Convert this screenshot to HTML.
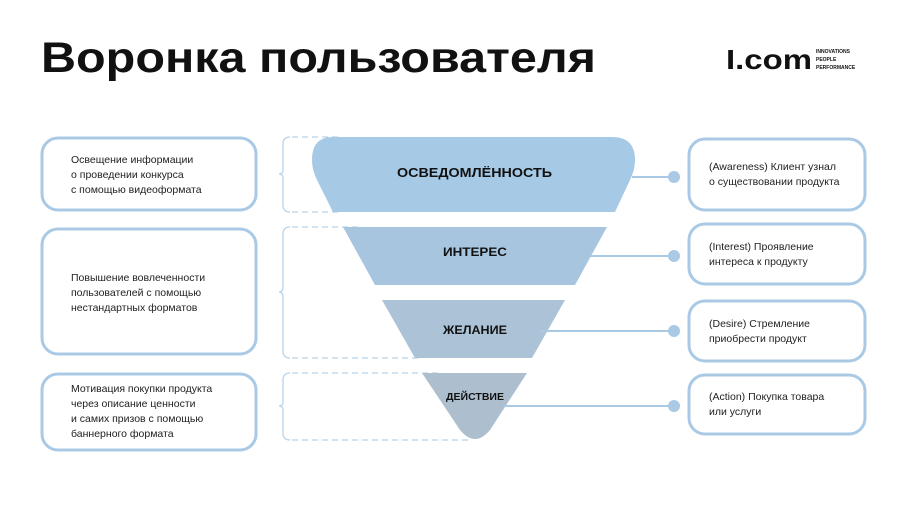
<!DOCTYPE html>
<html><head><meta charset="utf-8"><style>
html,body{margin:0;padding:0;background:#fff;}
svg{display:block;}
text{font-family:"Liberation Sans","DejaVu Sans",sans-serif;}
</style></head><body>
<svg width="900" height="506" viewBox="0 0 900 506" xmlns="http://www.w3.org/2000/svg">
<text x="41" y="72" font-size="43" font-weight="bold" fill="#111" textLength="555" lengthAdjust="spacingAndGlyphs">Воронка пользователя</text>
<text x="726" y="69" font-size="28" font-weight="bold" fill="#111" textLength="86" lengthAdjust="spacingAndGlyphs">I.com</text>
<text x="816" y="53" font-size="5" font-weight="bold" fill="#111">INNOVATIONS</text>
<text x="816" y="61" font-size="5" font-weight="bold" fill="#111">PEOPLE</text>
<text x="816" y="69" font-size="5" font-weight="bold" fill="#111">PERFORMANCE</text>

<g fill="none" stroke="#a9c9e5" stroke-width="3">
<rect x="42" y="138" width="214" height="72" rx="16"/>
<rect x="42" y="229" width="214" height="125" rx="16"/>
<rect x="42" y="374" width="214" height="76" rx="16"/>
<rect x="689" y="139" width="176" height="71" rx="16"/>
<rect x="689" y="224" width="176" height="60" rx="16"/>
<rect x="689" y="301" width="176" height="60" rx="16"/>
<rect x="689" y="375" width="176" height="59" rx="16"/>
</g>

<g fill="none" stroke="#b8d3ea" stroke-width="1.3">
<path d="M290 137 Q283 137 283 144 V170 Q283 174 279 174 Q283 174 283 178 V205 Q283 212 290 212"/>
<path d="M290 227 Q283 227 283 234 V287 Q283 292 279 292 Q283 292 283 297 V351 Q283 358 290 358"/>
<path d="M290 373 Q283 373 283 380 V402 Q283 406 279 406 Q283 406 283 410 V433 Q283 440 290 440"/>
<g stroke-dasharray="6 4">
<path d="M292 137 H340 M292 212 H340"/>
<path d="M292 227 H360 M292 358 H420"/>
<path d="M292 373 H440 M292 440 H470"/>
</g>
</g>

<path d="M333 137 H612 Q635 137 635 160 Q635 170 630 180 L615 212 H333 L317 180 Q312 170 312 160 Q312 137 333 137 Z" fill="#a6c9e6"/>
<path d="M343 227 H607 L575 285 H375 Z" fill="#a7c5df"/>
<path d="M382 300 H565 L532 358 H415 Z" fill="#abc2d7"/>
<path d="M422 373 H527 L490 430 Q475 448 460 430 Z" fill="#adbfcf"/>

<g stroke="#a9c9e5" stroke-width="2">
<line x1="632" y1="177" x2="674" y2="177"/>
<line x1="590" y1="256" x2="674" y2="256"/>
<line x1="540" y1="331" x2="674" y2="331"/>
<line x1="503" y1="406" x2="674" y2="406"/>
</g>
<g fill="#a9c9e5">
<circle cx="674" cy="177" r="6"/><circle cx="674" cy="256" r="6"/>
<circle cx="674" cy="331" r="6"/><circle cx="674" cy="406" r="6"/>
</g>

<g font-weight="bold" fill="#111">
<text x="397" y="177" font-size="13" textLength="155" lengthAdjust="spacingAndGlyphs">ОСВЕДОМЛЁННОСТЬ</text>
<text x="443" y="256" font-size="12" textLength="64" lengthAdjust="spacingAndGlyphs">ИНТЕРЕС</text>
<text x="443" y="334" font-size="12" textLength="64" lengthAdjust="spacingAndGlyphs">ЖЕЛАНИЕ</text>
<text x="446" y="400" font-size="10" textLength="58" lengthAdjust="spacingAndGlyphs">ДЕЙСТВИЕ</text>
</g>

<g font-size="10.5" fill="#222">
<text x="71" y="163">Освещение информации</text>
<text x="71" y="178">о проведении конкурса</text>
<text x="71" y="193">с помощью видеоформата</text>
<text x="71" y="281">Повышение вовлеченности</text>
<text x="71" y="296">пользователей с помощью</text>
<text x="71" y="311">нестандартных форматов</text>
<text x="71" y="392">Мотивация покупки продукта</text>
<text x="71" y="407">через описание ценности</text>
<text x="71" y="422">и самих призов с помощью</text>
<text x="71" y="437">баннерного формата</text>
<text x="709" y="170">(Awareness) Клиент узнал</text>
<text x="709" y="185">о существовании продукта</text>
<text x="709" y="250">(Interest) Проявление</text>
<text x="709" y="265">интереса к продукту</text>
<text x="709" y="327">(Desire) Стремление</text>
<text x="709" y="342">приобрести продукт</text>
<text x="709" y="400">(Action) Покупка товара</text>
<text x="709" y="415">или услуги</text>
</g>
</svg>
</body></html>
